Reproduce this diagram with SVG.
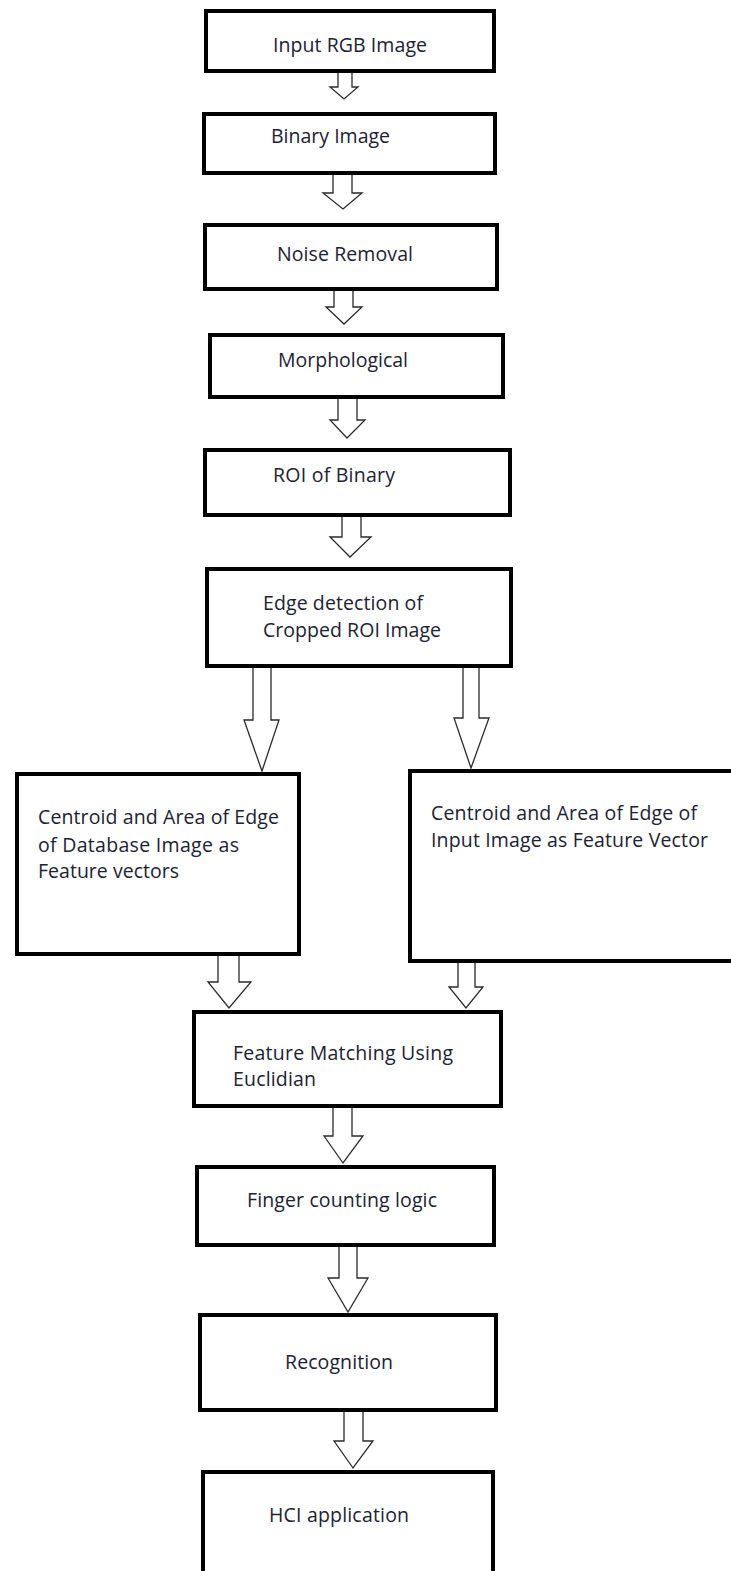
<svg xmlns="http://www.w3.org/2000/svg" width="731" height="1571" viewBox="0 0 731 1571">
  <style>
    .box { fill: #ffffff; stroke: #000000; stroke-width: 4; }
    .arrow { fill: #ffffff; stroke: #2a2a2a; stroke-width: 1.3; stroke-linejoin: miter; }
    .label { font-family: "Open Sans", "Noto Sans", "Liberation Sans", sans-serif; font-size: 19.5px; fill: #1c2233; }
  </style>
  <rect x="0" y="0" width="731" height="1571" fill="#ffffff"/>

  <!-- block arrows between the processing steps -->
  <g id="connectors">
    <path class="arrow" d="M338,73 V87 H330 L344,99 L358,87 H352 V73"/>
    <path class="arrow" d="M333,174 V193 H323 L343,209 L362,193 H352 V174"/>
    <path class="arrow" d="M334,291 V307 H326 L344,324 L362,307 H353 V291"/>
    <path class="arrow" d="M338,399 V420 H330 L347,438 L365,420 H357 V399"/>
    <path class="arrow" d="M342,517 V537 H330 L350,557 L371,537 H361 V517"/>
    <path class="arrow" d="M253,668 V720 H244 L262,771 L279,720 H271 V668"/>
    <path class="arrow" d="M463,668 V718 H454 L471,768 L489,718 H479 V668"/>
    <path class="arrow" d="M218,956 V982 H208 L229,1008 L251,982 H239 V956"/>
    <path class="arrow" d="M458,963 V987 H449 L466,1008 L483,987 H475 V963"/>
    <path class="arrow" d="M333,1108 V1136 H324 L343,1163 L363,1136 H352 V1108"/>
    <path class="arrow" d="M339,1247 V1278 H328 L348,1312 L368,1278 H357 V1247"/>
    <path class="arrow" d="M344,1412 V1441 H334 L353,1468 L373,1441 H363 V1412"/>
  </g>

  <g id="input-rgb">
    <rect class="box" x="206" y="11" width="288" height="60"/>
    <text class="label" x="273" y="52" textLength="154" lengthAdjust="spacing">Input RGB Image</text>
  </g>
  <g id="binary-image">
    <rect class="box" x="204" y="114" width="291" height="59"/>
    <text class="label" x="271" y="143" textLength="119" lengthAdjust="spacing">Binary Image</text>
  </g>
  <g id="noise-removal">
    <rect class="box" x="205" y="225" width="292" height="64"/>
    <text class="label" x="277" y="261" textLength="136" lengthAdjust="spacing">Noise Removal</text>
  </g>
  <g id="morphological">
    <rect class="box" x="210" y="335" width="293" height="62"/>
    <text class="label" x="278" y="367" textLength="130" lengthAdjust="spacing">Morphological</text>
  </g>
  <g id="roi-binary">
    <rect class="box" x="205" y="450" width="305" height="65"/>
    <text class="label" x="273" y="482" textLength="122" lengthAdjust="spacing">ROI of Binary</text>
  </g>
  <g id="edge-detection">
    <rect class="box" x="207" y="569" width="304" height="97"/>
    <text class="label" x="263" y="610" textLength="160" lengthAdjust="spacing">Edge detection of</text>
    <text class="label" x="263" y="637" textLength="178" lengthAdjust="spacing">Cropped ROI Image</text>
  </g>
  <g id="database-features">
    <rect class="box" x="17" y="774" width="282" height="180"/>
    <text class="label" x="38" y="824" textLength="241" lengthAdjust="spacing">Centroid and Area of Edge</text>
    <text class="label" x="38" y="852" textLength="201" lengthAdjust="spacing">of Database Image as</text>
    <text class="label" x="38" y="878" textLength="141" lengthAdjust="spacing">Feature vectors</text>
  </g>
  <g id="input-features">
    <rect class="box" x="410" y="771" width="330" height="190"/>
    <text class="label" x="431" y="820" textLength="266" lengthAdjust="spacing">Centroid and Area of Edge of</text>
    <text class="label" x="431" y="847" textLength="277" lengthAdjust="spacing">Input Image as Feature Vector</text>
  </g>
  <g id="feature-matching">
    <rect class="box" x="194" y="1012" width="307" height="94"/>
    <text class="label" x="233" y="1060" textLength="220" lengthAdjust="spacing">Feature Matching Using</text>
    <text class="label" x="233" y="1086" textLength="83" lengthAdjust="spacing">Euclidian</text>
  </g>
  <g id="finger-counting">
    <rect class="box" x="197" y="1167" width="297" height="78"/>
    <text class="label" x="247" y="1207" textLength="190" lengthAdjust="spacing">Finger counting logic</text>
  </g>
  <g id="recognition">
    <rect class="box" x="200" y="1315" width="296" height="95"/>
    <text class="label" x="285" y="1369" textLength="108" lengthAdjust="spacing">Recognition</text>
  </g>
  <g id="hci-application">
    <rect class="box" x="203" y="1472" width="290" height="120"/>
    <text class="label" x="269" y="1522" textLength="140" lengthAdjust="spacing">HCI application</text>
  </g>
</svg>
